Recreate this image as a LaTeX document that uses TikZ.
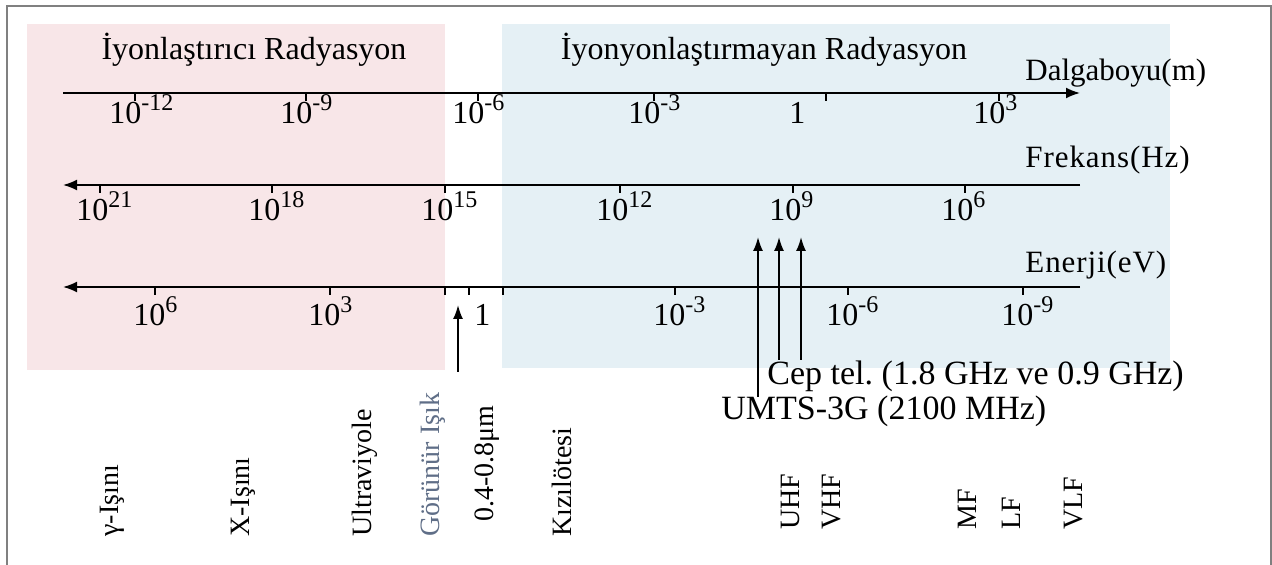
\documentclass[tikz,border=0pt]{standalone}
\usepackage{fontspec}
\setmainfont{Liberation Serif}
\usetikzlibrary{arrows.meta}
\frenchspacing

\definecolor{ionpink}{RGB}{248,230,232}
\definecolor{nonionblue}{RGB}{229,240,245}
\definecolor{framegray}{RGB}{128,128,128}
\definecolor{visgray}{RGB}{95,110,135}

\tikzset{
  axis/.style={line width=0.9pt, black},
  leftaxis/.style={axis, -{Latex[length=7pt,width=5.5pt]}},
  rightaxis/.style={axis, -{Latex[length=7pt,width=5.5pt]}},
  tick/.style={line width=0.6pt, black},
  pointer/.style={line width=0.9pt, black, -{Latex[length=7pt,width=5pt]}},
  txt/.style={inner sep=0pt, font=\fontsize{14}{16}\selectfont},
  titletxt/.style={inner sep=0pt, font=\fontsize{16}{18}\selectfont},
  axistxt/.style={inner sep=0pt, anchor=west, font=\fontsize{15.5}{18}\selectfont\addfontfeatures{LetterSpace=3}},
  bigtxt/.style={inner sep=0pt, font=\fontsize{17}{20}\selectfont},
  ticklabel/.style={inner sep=0pt, anchor=base west, font=\fontsize{16}{18}\selectfont},
  band/.style={txt, rotate=90, anchor=west},
}

% power of ten with a large exponent
\newcommand{\pw}[1]{10\raisebox{0.42em}{\fontsize{12}{13}\selectfont #1}}

\begin{document}
\begin{tikzpicture}[x=0.5pt, y=-0.5pt]
  \useasboundingbox (0,0) rectangle (1272,565);
  \fill[white] (0,0) rectangle (1272,565);

  % ionising / non-ionising regions
  \fill[ionpink] (27,24) rectangle (445,370);
  \fill[nonionblue] (502,24) rectangle (1170,368);

  % outer frame (open at the bottom)
  \draw[framegray, line width=1.3pt] (7,565) -- (7,6) -- (1271,6) -- (1271,565);

  % region titles
  \node[titletxt] (tion) at (254,50) {İyonlaştırıcı Radyasyon};
  \node[titletxt] (tnon) at (764,50) {İyonyonlaştırmayan Radyasyon};

  % ---------- wavelength axis ----------
  \coordinate (wl0) at (63,93);
  \coordinate (wl1) at (1080,93);
  \draw[rightaxis] (wl0) -- (wl1);
  \node[axistxt, font=\fontsize{15.5}{18}\selectfont] (wllab) at (1025,73) {Dalgaboyu(m)};
  \foreach \x/\e in {135/-12, 306/-9, 478/-6, 654/-3, 999/3} {
    \draw[tick] (\x,93) -- (\x,101);
    \node[ticklabel] at (\x-26,124) {\pw{\e}};
  }
  \draw[tick] (826,93) -- (826,101);
  \node[ticklabel] at (789,124) {1};

  % ---------- frequency axis ----------
  \coordinate (fr0) at (1080,185);
  \coordinate (fr1) at (63,185);
  \draw[leftaxis] (fr0) -- (fr1);
  \node[axistxt] (frlab) at (1025,160) {Frekans(Hz)};
  \foreach \x/\e in {100/21, 272/18, 445/15, 620/12, 793/9, 965/6} {
    \draw[tick] (\x,185) -- (\x,193);
    \node[ticklabel] at (\x-24,221) {\pw{\e}};
  }

  % ---------- energy axis ----------
  \coordinate (en0) at (1080,287);
  \coordinate (en1) at (63,287);
  \draw[leftaxis] (en0) -- (en1);
  \node[axistxt] (enlab) at (1025,265) {Enerji(eV)};
  \foreach \x/\e in {155/6, 330/3, 675/-3, 848/-6, 1023/-9} {
    \draw[tick] (\x,287) -- (\x,295);
    \node[ticklabel] at (\x-22,326) {\pw{\e}};
  }
  \foreach \x in {445,469,503} \draw[tick] (\x,287) -- (\x,295);
  \node[ticklabel] at (474,326) {1};

  % visible light pointer
  \coordinate (visfoot) at (458,372);
  \coordinate (vistip) at (458,305);
  \draw[pointer] (visfoot) -- (vistip);

  % mobile phone / UMTS pointers
  \coordinate (umtsfoot) at (758,397);
  \coordinate (umtstip) at (758,237);
  \coordinate (gsmAfoot) at (779,360);
  \coordinate (gsmAtip) at (779,237);
  \coordinate (gsmBfoot) at (801,360);
  \coordinate (gsmBtip) at (801,237);
  \draw[pointer] (umtsfoot) -- (umtstip);
  \draw[pointer] (gsmAfoot) -- (gsmAtip);
  \draw[pointer] (gsmBfoot) -- (gsmBtip);
  \node[bigtxt, anchor=west] (gsm) at (767,376) {Cep tel. (1.8 GHz ve 0.9 GHz)};
  \node[bigtxt, anchor=west] (umts) at (721,411) {UMTS-3G (2100 MHz)};

  % spectrum band names
  \node[band] (gamma) at (112,537) {γ-Işını};
  \node[band] (xray) at (243,537) {X-Işını};
  \node[band] (uv) at (365,537) {Ultraviyole};
  \node[band, text=visgray] (vis) at (433,537) {Görünür Işık};
  \node[band] (visrange) at (487,522) {0.4-0.8μm};
  \node[band] (ir) at (562,537) {Kızılötesi};
  \node[band] (uhf) at (790,530) {UHF};
  \node[band] (vhf) at (832,530) {VHF};
  \node[band] (mf) at (967,530) {MF};
  \node[band] (lf) at (1011,530) {LF};
  \node[band] (vlf) at (1074,530) {VLF};
\end{tikzpicture}
\end{document}
